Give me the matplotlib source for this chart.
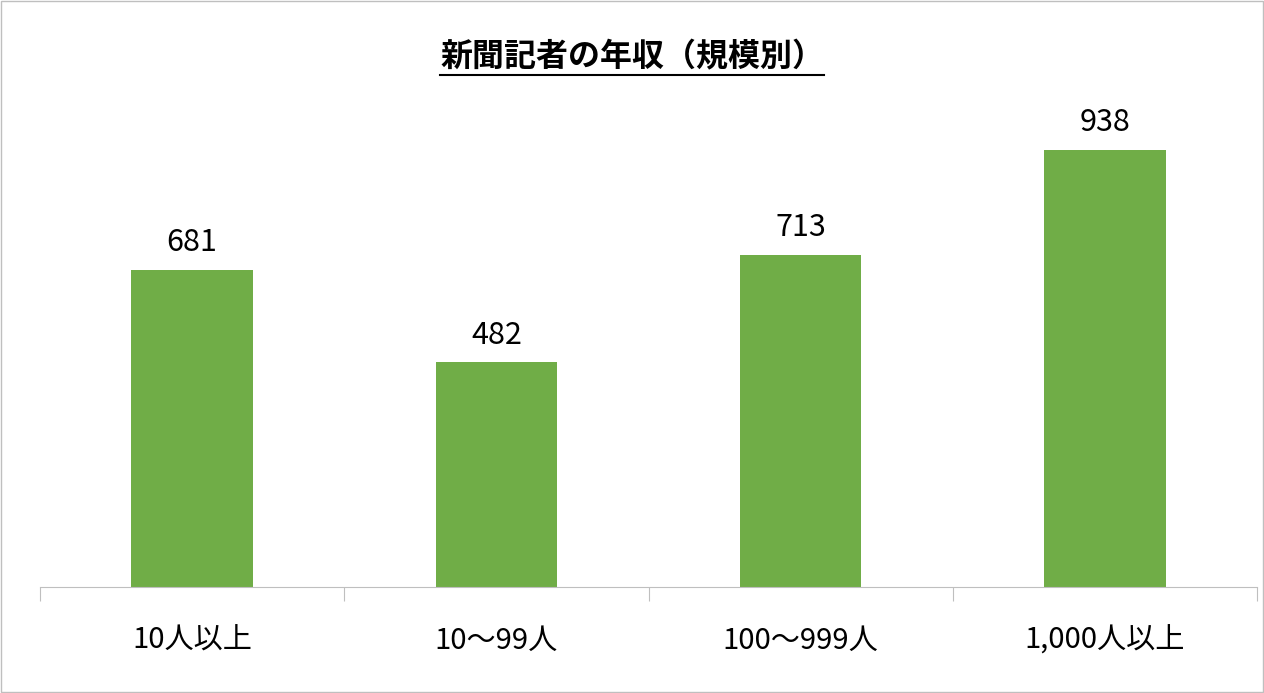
import matplotlib

matplotlib.use("Agg")
import matplotlib.pyplot as plt
from matplotlib.lines import Line2D
import numpy as np

plt.rcParams["font.family"] = ["Noto Sans CJK JP", "DejaVu Sans"]

CATEGORIES = ["10人以上", "10～99人", "100～999人", "1,000人以上"]
VALUES = [681, 482, 713, 938]
TITLE = "新聞記者の年収（規模別）"
BAR_COLOR = "#70AD47"

W, H = 1264, 693
fig = plt.figure(figsize=(W / 100, H / 100), dpi=100)
ax = fig.add_axes([40 / W, (H - 587) / H, (1257 - 40) / W, (587 - 100) / H])

xs = np.arange(len(CATEGORIES))
ax.bar(xs, VALUES, width=0.4, color=BAR_COLOR)
for x, v in zip(xs, VALUES):
    ax.text(x, v + 25, str(v), ha="center", va="bottom", fontsize=22)

ax.set_xlim(-0.5, len(CATEGORIES) - 0.5)
ax.set_ylim(0, 938 * 487 / 437)
for side in ("top", "right", "left"):
    ax.spines[side].set_visible(False)
ax.spines["bottom"].set_color("#BFBFBF")
ax.set_yticks([])
ax.set_xticks(np.arange(len(CATEGORIES) + 1) - 0.5, minor=False)
ax.set_xticklabels([])
ax.tick_params(axis="x", length=10, color="#BFBFBF")
for x, lab in zip(xs, CATEGORIES):
    ax.text(x, -0.11, lab, transform=ax.get_xaxis_transform(), ha="center", va="center", fontsize=21)

title = fig.text(0.5, 1 - 57 / H, TITLE, ha="center", va="center", fontsize=23, fontweight="bold")
fig.canvas.draw()
bb = title.get_window_extent().transformed(fig.transFigure.inverted())
fig.add_artist(Line2D([bb.x0, bb.x1], [bb.y0 - 0.003, bb.y0 - 0.003], transform=fig.transFigure, color="black", lw=1.5))

fig.add_artist(plt.Rectangle((0.001, 0.001), 0.998, 0.998, transform=fig.transFigure, fill=False, edgecolor="#BFBFBF", lw=1))
fig.savefig("out.png", dpi=100)
